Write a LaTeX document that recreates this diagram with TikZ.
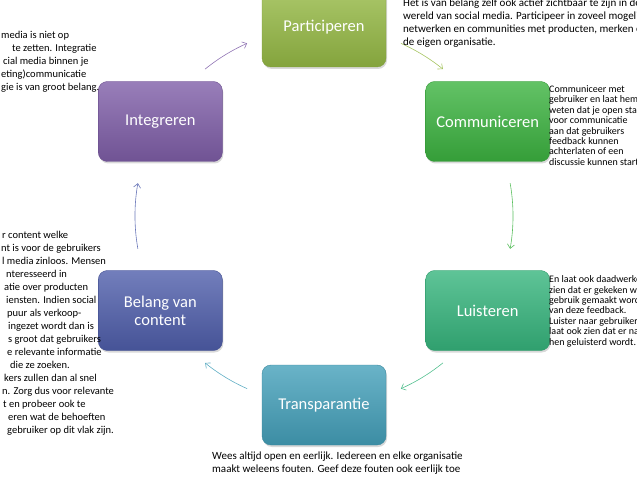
\documentclass[tikz,border=0pt]{standalone}
\usepackage{fontspec}
\setmainfont{Carlito}
\usepackage{tikz}
\usetikzlibrary{arrows.meta,shadows}
\definecolor{partKleur}{HTML}{96BA45}
\definecolor{commKleur}{HTML}{3CB340}
\definecolor{luistKleur}{HTML}{36B57D}
\definecolor{transKleur}{HTML}{44A0BA}
\definecolor{belangKleur}{HTML}{4F5EAB}
\definecolor{integKleur}{HTML}{7F5EA8}
\tikzset{
Blok/.style={
 rectangle,
 rounded corners=9pt,
 minimum width=124pt,
 minimum height=80pt,
 top color=#1!80!white,
 bottom color=#1!88!black,
 draw=#1!85!black,
 text=white,
 font=\fontsize{16.5}{18}\selectfont,
 align=center,
 drop shadow={opacity=0.3,shadow xshift=1pt,shadow yshift=-2pt}
 },
Pijl/.style={
 draw=#1!85!white,
 line width=0.6pt,
 -{Straight Barb[length=4pt,width=7pt]}
 },
Tekst/.style={
 anchor=north west,
 inner sep=0pt,
 align=left,
 font=\fontsize{11}{13}\selectfont
 },
KleinTekst/.style={
 Tekst,
 font=\fontsize{10}{10.4}\selectfont
 },
ZijTekst/.style={
 Tekst,
 font=\fontsize{10.5}{13}\selectfont
 }
}
\begin{document}
\begin{tikzpicture}[x=1pt,y=1pt]
\useasboundingbox (0,0) rectangle (637,477);
\clip (0,0) rectangle (637,477);
\coordinate (midden) at (324,261);
\node[Blok=partKleur] (part) at ([shift={(midden)}]90:189pt) {Participeren};
\node[Blok=commKleur] (comm) at ([shift={(midden)}]30:189pt) {Communiceren};
\node[Blok=luistKleur] (luist) at ([shift={(midden)}]-30:189pt) {Luisteren};
\node[Blok=transKleur] (trans) at ([shift={(midden)}]-90:189pt) {Transparantie};
\node[Blok=belangKleur] (belang) at ([shift={(midden)}]-150:189pt) {Belang van\\content};
\node[Blok=integKleur] (integ) at ([shift={(midden)}]150:189pt) {Integreren};
\foreach \naam/\hoek in {pijlA/66,pijlB/10,pijlC/-51,pijlD/-114,pijlE/-170,pijlF/129}
 \coordinate (\naam) at ([shift={(midden)}]\hoek:189pt);
\draw[Pijl=partKleur] (pijlA) arc[start angle=66,end angle=51,radius=189pt];
\draw[Pijl=commKleur] (pijlB) arc[start angle=10,end angle=-10,radius=189pt];
\draw[Pijl=luistKleur] (pijlC) arc[start angle=-51,end angle=-66,radius=189pt];
\draw[Pijl=transKleur] (pijlD) arc[start angle=-114,end angle=-129,radius=189pt];
\draw[Pijl=belangKleur] (pijlE) arc[start angle=-170,end angle=-190,radius=189pt];
\draw[Pijl=integKleur] (pijlF) arc[start angle=129,end angle=114,radius=189pt];
\node[Tekst] (tekstPart) at (403,478) {Het is van belang zelf ook actief zichtbaar te zijn in de\\wereld van social media. Participeer in zoveel mogelijk\\netwerken en communities met producten, merken en\\de eigen organisatie.};
\node[KleinTekst] (tekstComm) at (549,391.5) {Communiceer met\\gebruiker en laat hem\\weten dat je open staat\\voor communicatie\\aan dat gebruikers\\feedback kunnen\\achterlaten of een\\discussie kunnen starten.};
\node[KleinTekst] (tekstLuist) at (549,201.5) {En laat ook daadwerkelijk\\zien dat er gekeken wordt\\gebruik gemaakt wordt\\van deze feedback.\\Luister naar gebruikers en\\laat ook zien dat er naar\\hen geluisterd wordt.};
\node[Tekst] (tekstTrans) at (212,25) {Wees altijd open en eerlijk. Iedereen en elke organisatie\\maakt weleens fouten. Geef deze fouten ook eerlijk toe};
\node[ZijTekst] (tekstInteg) at (1,446) {media is niet op\\\hspace*{11pt}te zetten. Integratie\\\hspace*{2pt}cial media binnen je\\eting)communicatie\\gie is van groot belang.};
\node[ZijTekst] (tekstBelang) at (0,246) {\hspace*{2pt}r content welke\\\hspace*{1pt}nt is voor de gebruikers\\\hspace*{2pt}l media zinloos. Mensen\\\hspace*{6pt}nteresseerd in\\\hspace*{4pt}atie over producten\\\hspace*{6pt}iensten. Indien social\\\hspace*{7pt}puur als verkoop-\\\hspace*{8pt}ingezet wordt dan is\\\hspace*{8pt}s groot dat gebruikers\\\hspace*{7pt}e relevante informatie\\\hspace*{10pt}die ze zoeken.\\\hspace*{4pt}kers zullen dan al snel\\\hspace*{2pt}n. Zorg dus voor relevante\\\hspace*{3pt}t en probeer ook te\\\hspace*{8pt}eren wat de behoeften\\\hspace*{7pt}gebruiker op dit vlak zijn.};
\end{tikzpicture}
\end{document}
